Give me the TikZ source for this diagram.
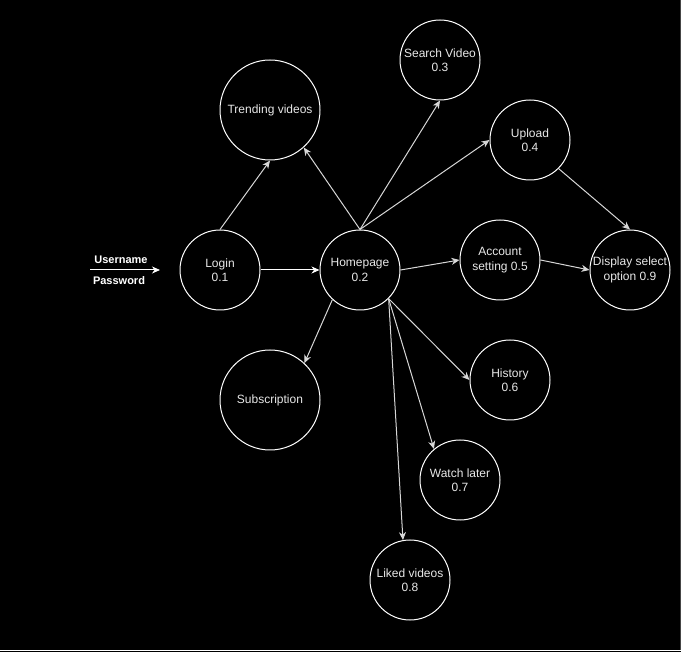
\documentclass[tikz,border=0pt]{standalone}
\usepackage{fontspec}
\setmainfont{Liberation Sans}
\usetikzlibrary{arrows.meta}
\definecolor{txt}{RGB}{232,232,232}
\definecolor{edge}{RGB}{215,215,215}
\definecolor{rim}{RGB}{70,70,70}
\begin{document}
\begin{tikzpicture}[x=1pt,y=-1pt,
  proc/.style={circle,draw=white,line width=1pt,minimum size=80pt,inner sep=0pt,
    text=txt,font=\fontsize{12}{14.5}\selectfont,align=center},
  bigproc/.style={proc,minimum size=100pt},
  flow/.style={draw=edge,line width=1pt,-{Stealth[length=8pt,width=7pt,inset=2.5pt]}},
  lbl/.style={text=white,font=\fontsize{11}{13}\selectfont\bfseries,inner sep=0pt}]
  % canvas
  \useasboundingbox (0,0) rectangle (681,652);
  \fill[black] (0,0) rectangle (681,652);
  \draw[white,line width=1.5pt] (0,650.5) -- (681,650.5);
  \draw[rim,line width=1pt] (680.5,0) -- (680.5,650);

  % processes
  \node[proc] (login) at (220,270) {Login\\0.1};
  \node[proc] (home) at (360,270) {Homepage\\0.2};
  \node[bigproc] (trend) at (270,110) {Trending videos};
  \node[proc] (search) at (440,60) {Search Video\\0.3};
  \node[proc] (upload) at (530,140) {Upload\\0.4};
  \node[proc] (account) at (500,260) {Account\\setting 0.5};
  \node[proc] (display) at (630,270) {Display select\\option 0.9};
  \node[bigproc] (subs) at (270,400) {Subscription};
  \node[proc] (history) at (510,380) {History\\0.6};
  \node[proc] (later) at (460,480) {Watch later\\0.7};
  \node[proc] (liked) at (410,580) {Liked videos\\0.8};

  % credentials input
  \coordinate (inStart) at (90,270);
  \coordinate (inEnd) at (160,270);
  \draw[flow,draw=white] (inStart) -- (inEnd);
  \node[lbl] (user) at (121,260) {Username};
  \node[lbl] (pass) at (119,281) {Password};

  % flows
  \draw[flow,draw=white] (login.east) -- (home.west);
  \draw[flow] (login.north) -- (trend.south);
  \draw[flow] (home.north) -- (trend.-48);
  \draw[flow] (home.north) -- (search.south);
  \draw[flow] (home.north) -- (upload.west);
  \draw[flow] (upload.-45) -- (display.north);
  \draw[flow] (home.east) -- (account.west);
  \draw[flow] (account.east) -- (display.west);
  \draw[flow] (home.-133) -- (subs.47);
  \draw[flow] (home.-45) -- (history.west);
  \draw[flow] (home.-45) -- (later.130);
  \draw[flow] (home.-45) -- (liked.100);
\end{tikzpicture}
\end{document}
